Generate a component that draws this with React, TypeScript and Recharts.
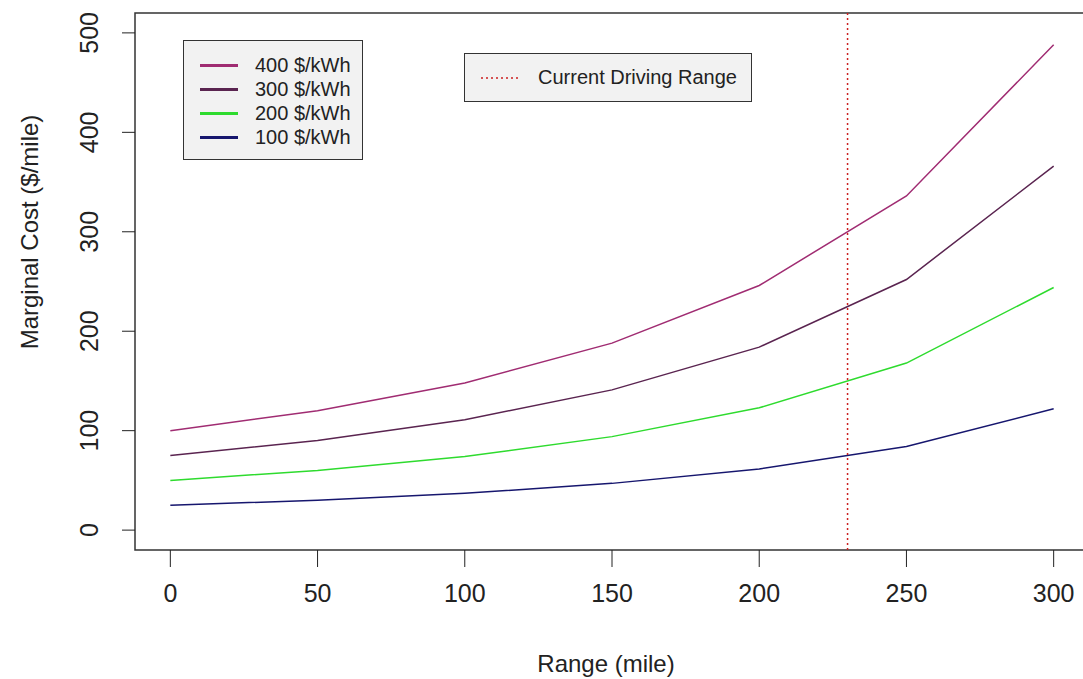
import {
  LineChart,
  Line,
  XAxis,
  YAxis,
  ReferenceLine,
  ReferenceArea,
  Label,
} from "recharts";

// range in miles
const ranges = [0, 50, 100, 150, 200, 250, 300];

// marginal cost ($/mile) for each battery price
const cost400 = [100, 120, 148, 188, 246, 336, 488];
const cost300 = [75, 90, 111, 141, 184, 252, 366];
const cost200 = [50, 60, 74, 94, 123, 168, 244];
const cost100 = [25, 30, 37, 47, 61.5, 84, 122];

const xTicks = [0, 50, 100, 150, 200, 250, 300];
const yTicks = [0, 100, 200, 300, 400, 500];

const currentRange = 230;

const seriesNames = ["400 $/kWh", "300 $/kWh", "200 $/kWh", "100 $/kWh"];
const seriesKeys = ["p400", "p300", "p200", "p100"];

const data = ranges.map((r, i) => ({
  range: r,
  p400: cost400[i],
  p300: cost300[i],
  p200: cost200[i],
  p100: cost100[i],
}));

const FONT = "'Liberation Sans', Arial, sans-serif";
const colors = ["#A02C72", "#5A2450", "#2EDB2E", "#16166E"];

const XTick = ({ x, y, payload }: any) => (
  <text x={x} y={y + 33} textAnchor="middle" fontSize={25} fill="#222" fontFamily={FONT}>
    {payload.value}
  </text>
);

const YTick = ({ x, y, payload }: any) => (
  <text
    x={x - 22}
    y={y}
    transform={`rotate(-90, ${x - 22}, ${y})`}
    textAnchor="middle"
    fontSize={25}
    fill="#222"
    fontFamily={FONT}
  >
    {payload.value}
  </text>
);

export default function App() {
  return (
    <div
      style={{
        position: "absolute",
        left: 0,
        top: 0,
        width: 1083,
        height: 679,
        background: "#fff",
        fontFamily: FONT,
      }}
    >
      <LineChart
        width={1083}
        height={679}
        data={data}
        margin={{ top: 13, right: -6, bottom: 69, left: 35 }}
      >
        <XAxis
          dataKey="range"
          type="number"
          domain={[-12, 312]}
          ticks={xTicks}
          allowDataOverflow
          axisLine={false}
          tickSize={17}
          tickLine={{ stroke: "#222" }}
          tick={<XTick />}
          height={60}
        >
          <Label
            content={() => (
              <text x={606} y={672} textAnchor="middle" fontSize={24} fill="#222" fontFamily={FONT}>
                Range (mile)
              </text>
            )}
          />
        </XAxis>
        <YAxis
          type="number"
          domain={[-20, 520]}
          ticks={yTicks}
          allowDataOverflow
          axisLine={false}
          tickSize={13}
          tickLine={{ stroke: "#222" }}
          tick={<YTick />}
          width={100}
        >
          <Label
            content={() => (
              <text
                x={38}
                y={232}
                transform="rotate(-90, 38, 232)"
                textAnchor="middle"
                fontSize={24}
                fill="#222"
                fontFamily={FONT}
              >
                Marginal Cost ($/mile)
              </text>
            )}
          />
        </YAxis>

        {seriesKeys.map((k, i) => (
          <Line
            key={k}
            type="linear"
            dataKey={k}
            name={seriesNames[i]}
            stroke={colors[i]}
            strokeWidth={1.5}
            dot={false}
            isAnimationActive={false}
          />
        ))}

        <ReferenceLine x={currentRange} stroke="#CC2020" strokeWidth={1.5} strokeDasharray="2 3" />

        <ReferenceArea x1={-12} x2={312} y1={-20} y2={520} fill="none" stroke="#333" strokeWidth={1.5} />
      </LineChart>

      {/* legend: battery prices */}
      <div
        style={{
          position: "absolute",
          left: 183,
          top: 40,
          width: 178,
          height: 118,
          border: "1.5px solid #333",
          background: "#f2f2f2",
        }}
      >
        {seriesNames.map((n, i) => (
          <div
            key={n}
            style={{
              position: "absolute",
              left: 16,
              top: 12 + i * 24,
              height: 24,
              display: "flex",
              alignItems: "center",
              fontSize: 20,
              color: "#222",
              whiteSpace: "nowrap",
            }}
          >
            <span style={{ display: "inline-block", width: 38, height: 3, background: colors[i], marginRight: 17 }} />
            {n}
          </div>
        ))}
      </div>

      {/* legend: current driving range */}
      <div
        style={{
          position: "absolute",
          left: 464,
          top: 53,
          width: 286,
          height: 47,
          border: "1.5px solid #333",
          background: "#f2f2f2",
          display: "flex",
          alignItems: "center",
          fontSize: 20,
          color: "#222",
          whiteSpace: "nowrap",
        }}
      >
        <svg width={38} height={4} style={{ marginLeft: 16, marginRight: 19 }}>
          <line x1={0} y1={2} x2={38} y2={2} stroke="#CC2020" strokeWidth={1.5} strokeDasharray="2 3" />
        </svg>
        Current Driving Range
      </div>
    </div>
  );
}
